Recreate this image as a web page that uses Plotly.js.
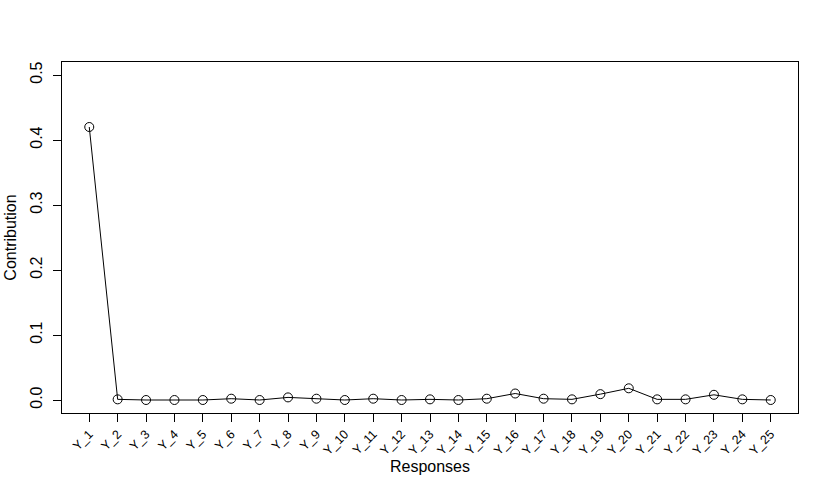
<!DOCTYPE html>
<html>
<head>
<meta charset="utf-8">
<script src="https://cdn.plot.ly/plotly-3.0.1.min.js"></script>
<style>
  html, body { margin: 0; padding: 0; background: #fff; }
  #plot { width: 830px; height: 491px; }
</style>
</head>
<body>
<div id="plot"></div>
<script>
// contributions per response
var responses = ['Y_1', 'Y_2', 'Y_3', 'Y_4', 'Y_5', 'Y_6', 'Y_7', 'Y_8', 'Y_9', 'Y_10',
    'Y_11', 'Y_12', 'Y_13', 'Y_14', 'Y_15', 'Y_16', 'Y_17', 'Y_18', 'Y_19', 'Y_20',
    'Y_21', 'Y_22', 'Y_23', 'Y_24', 'Y_25'];
var contribution = [0.420, 0.001, 0.000, 0.000, 0.000, 0.002, 0.000, 0.004, 0.002, 0.000,
    0.002, 0.000, 0.001, 0.000, 0.002, 0.010, 0.002, 0.001, 0.009, 0.018,
    0.001, 0.001, 0.008, 0.001, 0.000];
var yTicks = [0, 0.1, 0.2, 0.3, 0.4, 0.5];
var yTickText = ['0.0', '0.1', '0.2', '0.3', '0.4', '0.5'];

document.addEventListener("DOMContentLoaded", function () {
    var trace = {
        x: responses,
        y: contribution,
        type: 'scatter',
        mode: 'lines+markers',
        line: { color: 'black', width: 1 },
        marker: { symbol: 'circle-open', size: 9, color: 'black', line: { width: 1, color: 'black' } },
        hoverinfo: 'x+y'
    };

    var layout = {
        width: 830,
        height: 491,
        margin: { l: 62, r: 32, t: 62, b: 78 },
        paper_bgcolor: 'white',
        plot_bgcolor: 'white',
        showlegend: false,
        font: { family: 'Liberation Sans, Arial, sans-serif', color: 'black' },
        xaxis: {
            type: 'category',
            range: [-0.96, 24.96],
            showgrid: false,
            zeroline: false,
            showline: true,
            mirror: true,
            linecolor: 'black',
            linewidth: 1,
            ticks: 'outside',
            ticklen: 8,
            tickcolor: 'black',
            tickangle: -45,
            tickfont: { size: 12.5 },
            title: { text: 'Responses', font: { size: 16 }, standoff: 3 }
        },
        yaxis: {
            range: [-0.02, 0.52],
            tickvals: yTicks,
            ticktext: yTickText,
            showgrid: false,
            zeroline: false,
            showline: true,
            mirror: true,
            linecolor: 'black',
            linewidth: 1,
            ticks: 'outside',
            ticklen: 8,
            tickcolor: 'black',
            tickangle: -90,
            ticklabelstandoff: 5,
            tickfont: { size: 16 },
            title: { text: 'Contribution', font: { size: 16 }, standoff: 6 }
        }
    };

    Plotly.newPlot('plot', [trace], layout, { displayModeBar: false, staticPlot: true });
});
</script>
</body>
</html>
